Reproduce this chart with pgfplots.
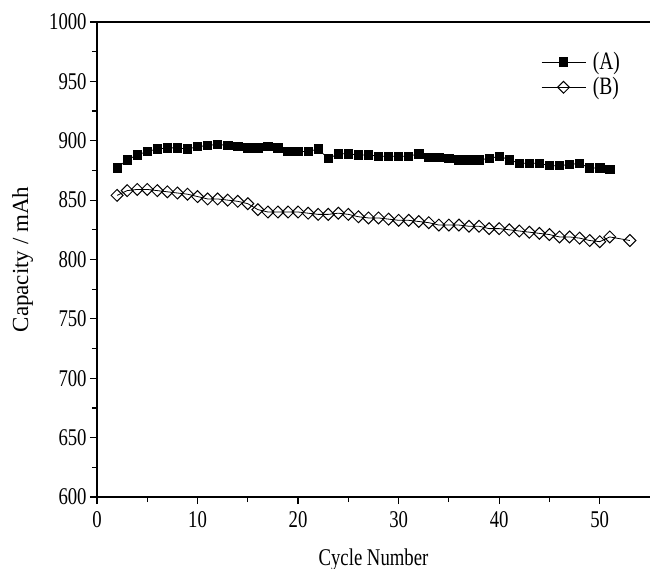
\documentclass[border=0pt]{standalone}
\usepackage{pgfplots}
\pgfplotsset{compat=1.18}
\usepackage{fontspec}
\setmainfont[FakeStretch=0.78]{Liberation Serif}
\newfontfamily\ylfont{Liberation Serif}
\begin{document}
\begin{tikzpicture}
\begin{axis}[scale only axis, width=276.5pt, height=237.5pt,
    xmin=0, xmax=55, ymin=600, ymax=1000,
    xtick={0,10,...,50}, ytick={600,650,...,1000},
    minor x tick num=1, minor y tick num=1,
    axis x line*=box, axis y line*=left,
    xtick pos=lower, ytick pos=left,
    tick align=outside, major tick length=3.5pt, minor tick length=2.5pt,
    every tick/.style={black, line width=0.6pt}, axis line style={line width=0.7pt},
    ticklabel style={font=\fontsize{12}{14}\selectfont},
    yticklabel style={inner sep=1.5pt},
    /pgf/number format/assume math mode=true,
    /pgf/number format/1000 sep={},
    xlabel={Cycle Number}, ylabel={Capacity / mAh},
    xlabel style={font=\fontsize{12}{14}\selectfont, yshift=-4pt},
    ylabel style={font=\ylfont\fontsize{11.5}{13}\selectfont, yshift=3pt},
    legend style={at={(0.97,0.955)}, anchor=north east, draw=none, fill=none,
        font=\fontsize{12.5}{14}\selectfont, row sep=-1.5pt,
        nodes={inner xsep=3.5pt}},
    legend image code/.code={\draw[mark repeat=2, mark phase=2] plot coordinates {(0pt,0pt) (11pt,0pt) (22pt,0pt)};},
    legend cell align=left]
\addplot[black, line width=0.4pt, mark=square*, mark size=2.1pt] coordinates {
(2,877) (3,884) (4,888) (5,891) (6,893) (7,894) (8,894) (9,893) (10,895) (11,896)
(12,897) (13,896) (14,895) (15,894) (16,894) (17,895) (18,894) (19,891) (20,891) (21,891)
(22,893) (23,885) (24,889) (25,889) (26,888) (27,888) (28,887) (29,887) (30,887) (31,887)
(32,889) (33,886) (34,886) (35,885) (36,884) (37,884) (38,884) (39,885) (40,887) (41,884)
(42,881) (43,881) (44,881) (45,879) (46,879) (47,880) (48,881) (49,877) (50,877) (51,876)};
\addplot[black, line width=0.4pt, mark=square, mark size=2.1pt, mark options={rotate=45, fill=white, line width=0.5pt}] coordinates {
(2,854) (3,858) (4,859) (5,859) (6,858) (7,857) (8,856) (9,855) (10,853) (11,851)
(12,851) (13,850) (14,849) (15,847) (16,842) (17,840) (18,840) (19,840) (20,840) (21,839)
(22,838) (23,838) (24,839) (25,838) (26,836) (27,835) (28,835) (29,834) (30,833) (31,833)
(32,832) (33,831) (34,829) (35,829) (36,829) (37,828) (38,828) (39,826) (40,826) (41,825)
(42,824) (43,823) (44,822) (45,821) (46,819) (47,819) (48,818) (49,816) (50,815) (51,819)
(53,816)};
\legend{(A),(B)}
\end{axis}
\pgfresetboundingbox
\path (-48.5pt,-36pt) rectangle (276.5pt,248.5pt);
\end{tikzpicture}
\end{document}
